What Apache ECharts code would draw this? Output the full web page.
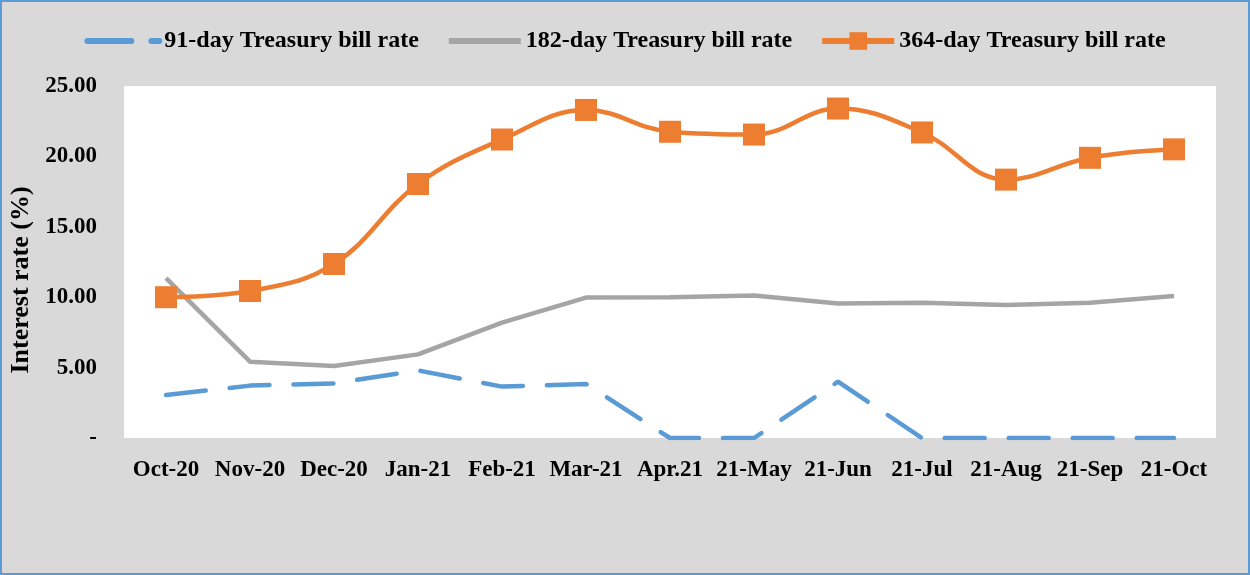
<!DOCTYPE html>
<html>
<head>
<meta charset="utf-8">
<script src="https://cdn.jsdelivr.net/npm/echarts@6/dist/echarts.min.js"></script>
<style>
  html, body { margin: 0; padding: 0; }
  #chart { width: 1250px; height: 575px; box-sizing: border-box; border: 2px solid #5B9BD5; background: #D9D9D9; }
</style>
</head>
<body>
<div id="chart"></div>
<script>
// months on the x axis
var months = ["Oct-20", "Nov-20", "Dec-20", "Jan-21", "Feb-21", "Mar-21", "Apr.21",
  "21-May", "21-Jun", "21-Jul", "21-Aug", "21-Sep", "21-Oct"];

// rates (%)
var rate91 = [3.05, 3.72, 3.88, 4.8, 3.65, 3.84, 0, 0, 4.0, 0, 0, 0, 0];
var rate182 = [11.36, 5.42, 5.11, 5.94, 8.19, 9.97, 10.0, 10.12, 9.56, 9.61, 9.45, 9.6, 10.08];
var rate364 = [10.0, 10.44, 12.36, 18.04, 21.2, 23.3, 21.75, 21.55, 23.4, 21.7, 18.35, 19.9, 20.5];

var yTicks = { min: 0, max: 25, step: 5 };

var myChart = echarts.init(document.getElementById("chart"));
var boldFont = { fontFamily: "Liberation Serif", fontWeight: "bold", color: "#000" };

var option = {
  backgroundColor: "#D9D9D9",
  animation: false,
  legend: {
    top: 22,
    left: "center",
    itemWidth: 72,
    itemHeight: 22,
    itemGap: 27,
    textStyle: Object.assign({ fontSize: 24 }, boldFont),
    data: [
      {
        name: "91-day Treasury bill rate",
        itemStyle: { opacity: 0 },
        lineStyle: { width: 6, type: [44, 20], cap: "round" }
      },
      {
        name: "182-day Treasury bill rate",
        itemStyle: { opacity: 0 },
        lineStyle: { width: 6 }
      },
      {
        name: "364-day Treasury bill rate",
        lineStyle: { width: 6 }
      }
    ]
  },
  // the div has a 2px border, so the grid is measured from inside it
  grid: {
    left: 122,
    right: 32,
    top: 84,
    bottom: 135,
    outerBoundsMode: "none",
    containLabel: false,
    show: true,
    backgroundColor: "#fff",
    borderWidth: 0
  },
  xAxis: {
    type: "category",
    data: months,
    axisLine: { show: false },
    axisTick: { show: false },
    axisLabel: Object.assign({ fontSize: 23, margin: 21, interval: 0 }, boldFont)
  },
  yAxis: {
    type: "value",
    min: yTicks.min,
    max: yTicks.max,
    interval: yTicks.step,
    name: "Interest rate (%)",
    nameLocation: "middle",
    nameGap: 90,
    nameTextStyle: Object.assign({ fontSize: 26, padding: [0, 36, 0, 0] }, boldFont),
    splitLine: { show: false },
    axisLine: { show: false },
    axisTick: { show: false },
    axisLabel: Object.assign({
      fontSize: 23,
      margin: 27,
      formatter: function (v) { return v === 0 ? "-" : v.toFixed(2); }
    }, boldFont)
  },
  series: [
    {
      name: "91-day Treasury bill rate",
      type: "line",
      data: rate91,
      symbol: "none",
      itemStyle: { color: "#5B9BD5" },
      lineStyle: { color: "#5B9BD5", width: 4.5, type: [40, 24], cap: "round" }
    },
    {
      name: "182-day Treasury bill rate",
      type: "line",
      data: rate182,
      symbol: "none",
      itemStyle: { color: "#A5A5A5" },
      lineStyle: { color: "#A5A5A5", width: 4.5 }
    },
    {
      name: "364-day Treasury bill rate",
      type: "line",
      data: rate364,
      smooth: 0.4,
      symbol: "rect",
      symbolSize: 22,
      itemStyle: { color: "#ED7D31" },
      lineStyle: { color: "#ED7D31", width: 4.5 }
    }
  ]
};

myChart.setOption(option);
</script>
</body>
</html>
